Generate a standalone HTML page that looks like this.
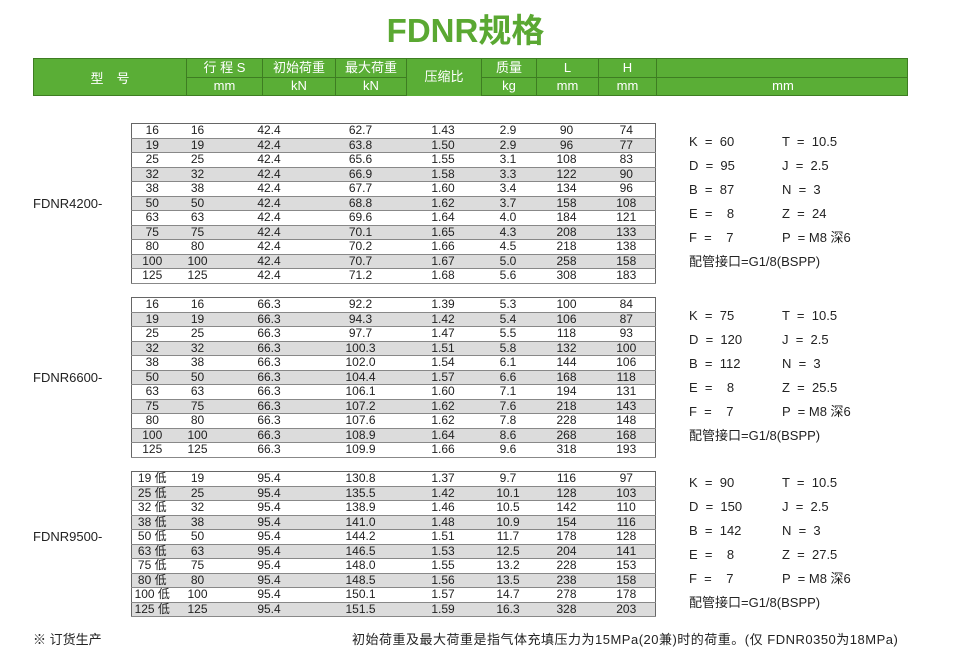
<!DOCTYPE html>
<html><head><meta charset="utf-8"><style>
body{margin:0;width:979px;height:666px;background:#fff;position:relative;overflow:hidden;font-family:"Liberation Sans","Noto Sans CJK SC",sans-serif;color:#222}
.t{position:absolute;left:0;top:4px;width:931px;text-align:center;color:#5aa832;font-weight:bold;font-size:33px;letter-spacing:0px}
.hd{position:absolute;left:33px;top:58px;width:875px;height:38px;background:#5aae36;border:1px solid #3e7d22;box-sizing:border-box}
.hc{position:absolute;color:#fff;font-size:13px;text-align:center;border-left:1px solid #3e7d22;box-sizing:border-box}
.hl{position:absolute;left:152px;right:0;top:18px;border-top:1px solid #3e7d22}
table{position:absolute;left:131px;border-collapse:collapse;font-size:12px;table-layout:fixed;border:1px solid #666}
td{height:13.5px;padding:0;text-align:center;line-height:13px;border-bottom:1px solid #888}
tr:nth-child(even) td{background:#dcdcdc}
.lab{position:absolute;left:33px;font-size:13px}
.p{position:absolute;font-size:13px;line-height:24px}
.f{position:absolute;top:629px;font-size:13px}
</style></head><body>
<div class="t">FDNR规格</div>
<div class="hd">
<div class="hc" style="left:0;width:152px;top:9px;border:0">型　号</div>
<div class="hl"></div>
<div class="hc" style="left:152px;width:76px;top:0;height:37px;line-height:18px">行 程 S<br>mm</div>
<div class="hc" style="left:228px;width:73px;top:0;height:37px;line-height:18px">初始荷重<br>kN</div>
<div class="hc" style="left:301px;width:71px;top:0;height:37px;line-height:18px">最大荷重<br>kN</div>
<div class="hc" style="left:372px;width:75px;top:0;height:37px;line-height:36px;background:#5aae36">压缩比</div>
<div class="hc" style="left:447px;width:55px;top:0;height:37px;line-height:18px">质量<br>kg</div>
<div class="hc" style="left:502px;width:62px;top:0;height:37px;line-height:18px">L<br>mm</div>
<div class="hc" style="left:564px;width:58px;top:0;height:37px;line-height:18px">H<br>mm</div>
<div class="hc" style="left:622px;width:253px;top:0;height:37px;line-height:18px">&nbsp;<br>mm</div>
</div>
<table style="top:123px;width:524px"><colgroup><col style="width:41px"><col style="width:50px"><col style="width:93px"><col style="width:90px"><col style="width:75px"><col style="width:55px"><col style="width:62px"><col style="width:58px"></colgroup>
<tr><td>16</td><td>16</td><td>42.4</td><td>62.7</td><td>1.43</td><td>2.9</td><td>90</td><td>74</td></tr>
<tr><td>19</td><td>19</td><td>42.4</td><td>63.8</td><td>1.50</td><td>2.9</td><td>96</td><td>77</td></tr>
<tr><td>25</td><td>25</td><td>42.4</td><td>65.6</td><td>1.55</td><td>3.1</td><td>108</td><td>83</td></tr>
<tr><td>32</td><td>32</td><td>42.4</td><td>66.9</td><td>1.58</td><td>3.3</td><td>122</td><td>90</td></tr>
<tr><td>38</td><td>38</td><td>42.4</td><td>67.7</td><td>1.60</td><td>3.4</td><td>134</td><td>96</td></tr>
<tr><td>50</td><td>50</td><td>42.4</td><td>68.8</td><td>1.62</td><td>3.7</td><td>158</td><td>108</td></tr>
<tr><td>63</td><td>63</td><td>42.4</td><td>69.6</td><td>1.64</td><td>4.0</td><td>184</td><td>121</td></tr>
<tr><td>75</td><td>75</td><td>42.4</td><td>70.1</td><td>1.65</td><td>4.3</td><td>208</td><td>133</td></tr>
<tr><td>80</td><td>80</td><td>42.4</td><td>70.2</td><td>1.66</td><td>4.5</td><td>218</td><td>138</td></tr>
<tr><td>100</td><td>100</td><td>42.4</td><td>70.7</td><td>1.67</td><td>5.0</td><td>258</td><td>158</td></tr>
<tr><td>125</td><td>125</td><td>42.4</td><td>71.2</td><td>1.68</td><td>5.6</td><td>308</td><td>183</td></tr>
</table>
<table style="top:297px;width:524px"><colgroup><col style="width:41px"><col style="width:50px"><col style="width:93px"><col style="width:90px"><col style="width:75px"><col style="width:55px"><col style="width:62px"><col style="width:58px"></colgroup>
<tr><td>16</td><td>16</td><td>66.3</td><td>92.2</td><td>1.39</td><td>5.3</td><td>100</td><td>84</td></tr>
<tr><td>19</td><td>19</td><td>66.3</td><td>94.3</td><td>1.42</td><td>5.4</td><td>106</td><td>87</td></tr>
<tr><td>25</td><td>25</td><td>66.3</td><td>97.7</td><td>1.47</td><td>5.5</td><td>118</td><td>93</td></tr>
<tr><td>32</td><td>32</td><td>66.3</td><td>100.3</td><td>1.51</td><td>5.8</td><td>132</td><td>100</td></tr>
<tr><td>38</td><td>38</td><td>66.3</td><td>102.0</td><td>1.54</td><td>6.1</td><td>144</td><td>106</td></tr>
<tr><td>50</td><td>50</td><td>66.3</td><td>104.4</td><td>1.57</td><td>6.6</td><td>168</td><td>118</td></tr>
<tr><td>63</td><td>63</td><td>66.3</td><td>106.1</td><td>1.60</td><td>7.1</td><td>194</td><td>131</td></tr>
<tr><td>75</td><td>75</td><td>66.3</td><td>107.2</td><td>1.62</td><td>7.6</td><td>218</td><td>143</td></tr>
<tr><td>80</td><td>80</td><td>66.3</td><td>107.6</td><td>1.62</td><td>7.8</td><td>228</td><td>148</td></tr>
<tr><td>100</td><td>100</td><td>66.3</td><td>108.9</td><td>1.64</td><td>8.6</td><td>268</td><td>168</td></tr>
<tr><td>125</td><td>125</td><td>66.3</td><td>109.9</td><td>1.66</td><td>9.6</td><td>318</td><td>193</td></tr>
</table>
<table style="top:471px;width:524px"><colgroup><col style="width:41px"><col style="width:50px"><col style="width:93px"><col style="width:90px"><col style="width:75px"><col style="width:55px"><col style="width:62px"><col style="width:58px"></colgroup>
<tr><td>19 低</td><td>19</td><td>95.4</td><td>130.8</td><td>1.37</td><td>9.7</td><td>116</td><td>97</td></tr>
<tr><td>25 低</td><td>25</td><td>95.4</td><td>135.5</td><td>1.42</td><td>10.1</td><td>128</td><td>103</td></tr>
<tr><td>32 低</td><td>32</td><td>95.4</td><td>138.9</td><td>1.46</td><td>10.5</td><td>142</td><td>110</td></tr>
<tr><td>38 低</td><td>38</td><td>95.4</td><td>141.0</td><td>1.48</td><td>10.9</td><td>154</td><td>116</td></tr>
<tr><td>50 低</td><td>50</td><td>95.4</td><td>144.2</td><td>1.51</td><td>11.7</td><td>178</td><td>128</td></tr>
<tr><td>63 低</td><td>63</td><td>95.4</td><td>146.5</td><td>1.53</td><td>12.5</td><td>204</td><td>141</td></tr>
<tr><td>75 低</td><td>75</td><td>95.4</td><td>148.0</td><td>1.55</td><td>13.2</td><td>228</td><td>153</td></tr>
<tr><td>80 低</td><td>80</td><td>95.4</td><td>148.5</td><td>1.56</td><td>13.5</td><td>238</td><td>158</td></tr>
<tr><td>100 低</td><td>100</td><td>95.4</td><td>150.1</td><td>1.57</td><td>14.7</td><td>278</td><td>178</td></tr>
<tr><td>125 低</td><td>125</td><td>95.4</td><td>151.5</td><td>1.59</td><td>16.3</td><td>328</td><td>203</td></tr>
</table>
<div class="lab" style="top:196px">FDNR4200-</div>
<div class="lab" style="top:370px">FDNR6600-</div>
<div class="lab" style="top:529px">FDNR9500-</div>
<div class="p" style="left:689px;top:130px">K &nbsp;= &nbsp;60<br>D &nbsp;= &nbsp;95<br>B &nbsp;= &nbsp;87<br>E &nbsp;= &nbsp;&nbsp; 8<br>F &nbsp;= &nbsp;&nbsp; 7<br>配管接口=G1/8(BSPP)</div>
<div class="p" style="left:782px;top:130px">T &nbsp;= &nbsp;10.5<br>J &nbsp;= &nbsp;2.5<br>N &nbsp;= &nbsp;3<br>Z &nbsp;= &nbsp;24<br>P &nbsp;= M8 深6</div>
<div class="p" style="left:689px;top:304px">K &nbsp;= &nbsp;75<br>D &nbsp;= &nbsp;120<br>B &nbsp;= &nbsp;112<br>E &nbsp;= &nbsp;&nbsp; 8<br>F &nbsp;= &nbsp;&nbsp; 7<br>配管接口=G1/8(BSPP)</div>
<div class="p" style="left:782px;top:304px">T &nbsp;= &nbsp;10.5<br>J &nbsp;= &nbsp;2.5<br>N &nbsp;= &nbsp;3<br>Z &nbsp;= &nbsp;25.5<br>P &nbsp;= M8 深6</div>
<div class="p" style="left:689px;top:471px">K &nbsp;= &nbsp;90<br>D &nbsp;= &nbsp;150<br>B &nbsp;= &nbsp;142<br>E &nbsp;= &nbsp;&nbsp; 8<br>F &nbsp;= &nbsp;&nbsp; 7<br>配管接口=G1/8(BSPP)</div>
<div class="p" style="left:782px;top:471px">T &nbsp;= &nbsp;10.5<br>J &nbsp;= &nbsp;2.5<br>N &nbsp;= &nbsp;3<br>Z &nbsp;= &nbsp;27.5<br>P &nbsp;= M8 深6</div>
<div class="f" style="left:33px">※ 订货生产</div>
<div class="f" style="left:352px;letter-spacing:0.5px">初始荷重及最大荷重是指气体充填压力为15MPa(20兼)时的荷重。(仅 FDNR0350为18MPa)</div>
</body></html>
